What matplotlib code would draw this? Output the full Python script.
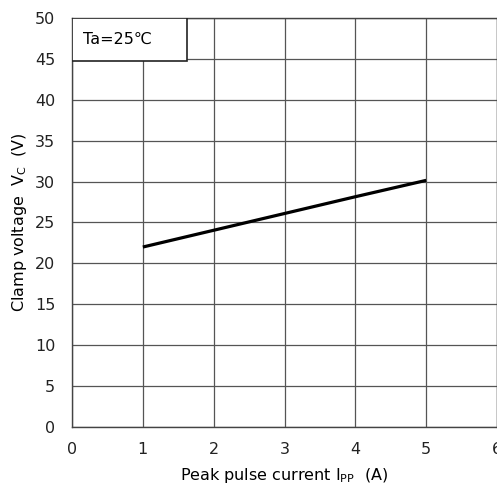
import matplotlib.pyplot as plt
from matplotlib.patches import Rectangle

# data
current = [1, 2, 3, 4, 5]
clamp_v = [22.0, 24.05, 26.1, 28.15, 30.15]
x_ticks = [0, 1, 2, 3, 4, 5, 6]
y_ticks = [0, 5, 10, 15, 20, 25, 30, 35, 40, 45, 50]

plt.rcParams['font.family'] = ['DejaVu Sans']
plt.rcParams['mathtext.fontset'] = 'dejavusans'

fig = plt.figure(figsize=(4.97, 4.86), dpi=100)
ax = fig.add_axes([72 / 497, 59 / 486, 425 / 497, 409 / 486])

ax.plot(current, clamp_v, color='black', lw=2.3, solid_capstyle='butt', zorder=3)

ax.set_xlim(0, 6)
ax.set_ylim(0, 50)
ax.set_xticks(x_ticks)
ax.set_yticks(y_ticks)
ax.tick_params(length=0, labelsize=11.5, colors='#222222')
ax.tick_params(axis='y', pad=12)
ax.tick_params(axis='x', pad=10.5)
ax.grid(True, color='#555555', lw=0.9)
for s in ax.spines.values():
    s.set_color('#444444')
    s.set_linewidth(1.0)

ax.set_xlabel(r'Peak pulse current I$_\mathregular{PP}$  (A)', fontsize=11.5, labelpad=7)
ax.set_ylabel(r'Clamp voltage  V$_\mathregular{C}$  (V)', fontsize=11.5, labelpad=4)

# condition box in top-left corner
ax.add_patch(Rectangle((0, 0.895), 0.27, 0.105, transform=ax.transAxes,
                       facecolor='white', edgecolor='#222222', lw=1.2, zorder=4))
ax.text(0.025, 0.947, 'Ta=25℃', transform=ax.transAxes, fontsize=11.5,
        va='center', ha='left', zorder=5)

fig.savefig('out.png', dpi=100)
